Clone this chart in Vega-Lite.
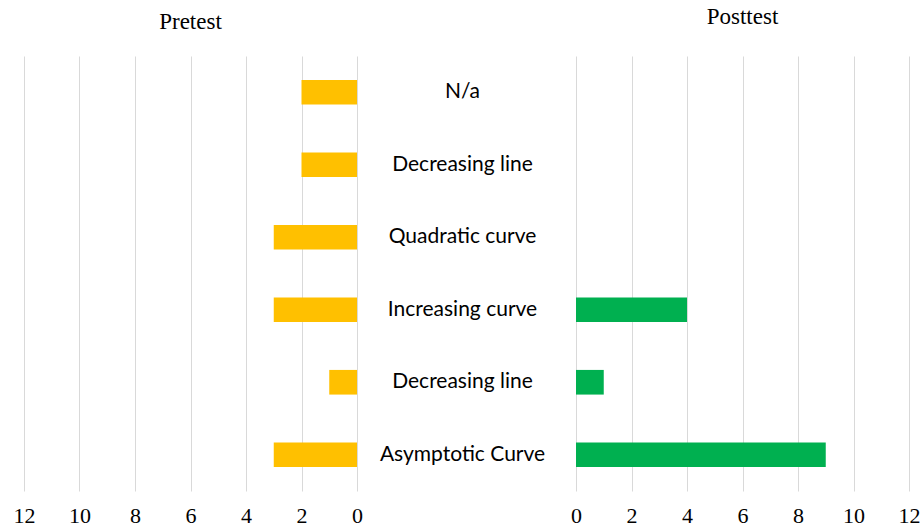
{
  "$schema": "https://vega.github.io/schema/vega-lite/v6.json",
  "padding": {"left": 13, "top": 6, "right": 0, "bottom": 0},
  "background": "white",
  "bounds": "flush",
  "spacing": 219,
  "data": {
    "values": [
      {"item": "N/a", "pretest": 2, "posttest": 0},
      {"item": "Decreasing line", "pretest": 2, "posttest": 0},
      {"item": "Quadratic curve", "pretest": 3, "posttest": 0},
      {"item": "Increasing curve", "pretest": 3, "posttest": 4},
      {"item": "Decreasing line #2", "pretest": 1, "posttest": 1},
      {"item": "Asymptotic Curve", "pretest": 3, "posttest": 9}
    ]
  },
  "config": {
    "view": {"stroke": null},
    "axis": {
      "labelFont": "Liberation Serif",
      "labelFontSize": 22,
      "labelColor": "#000000",
      "labelFlush": false,
      "gridColor": "#d9d9d9",
      "gridWidth": 1,
      "domain": false,
      "ticks": false,
      "tickSize": 0
    },
    "title": {
      "font": "Liberation Serif",
      "fontSize": 23,
      "fontWeight": "normal",
      "color": "#000000"
    }
  },
  "hconcat": [
    {
      "width": 333,
      "height": 435,
      "title": {"text": "Pretest", "offset": 22},
      "mark": {"type": "bar", "color": "#FFC000", "height": {"band": 0.34}},
      "encoding": {
        "y": {
          "field": "item",
          "type": "nominal",
          "sort": null,
          "axis": null,
          "scale": {"paddingInner": 0, "paddingOuter": 0}
        },
        "x": {
          "field": "pretest",
          "type": "quantitative",
          "scale": {"domain": [0, 12], "reverse": true, "nice": false},
          "axis": {"values": [0, 2, 4, 6, 8, 10, 12], "title": null, "labelPadding": 14, "grid": true}
        }
      }
    },
    {
      "width": 333,
      "height": 435,
      "title": {"text": "Posttest", "offset": 27},
      "mark": {"type": "bar", "color": "#00B050", "height": {"band": 0.34}},
      "encoding": {
        "y": {
          "field": "item",
          "type": "nominal",
          "sort": null,
          "scale": {"paddingInner": 0, "paddingOuter": 0},
          "axis": {
            "title": null,
            "grid": false,
            "labelFont": "Lato",
            "labelFontSize": 21,
            "labelAlign": "center",
            "labelPadding": 114,
            "labelExpr": "replace(datum.value, ' #2', '')"
          }
        },
        "x": {
          "field": "posttest",
          "type": "quantitative",
          "scale": {"domain": [0, 12], "nice": false},
          "axis": {"values": [0, 2, 4, 6, 8, 10, 12], "title": null, "labelPadding": 14, "grid": true}
        }
      }
    }
  ]
}
